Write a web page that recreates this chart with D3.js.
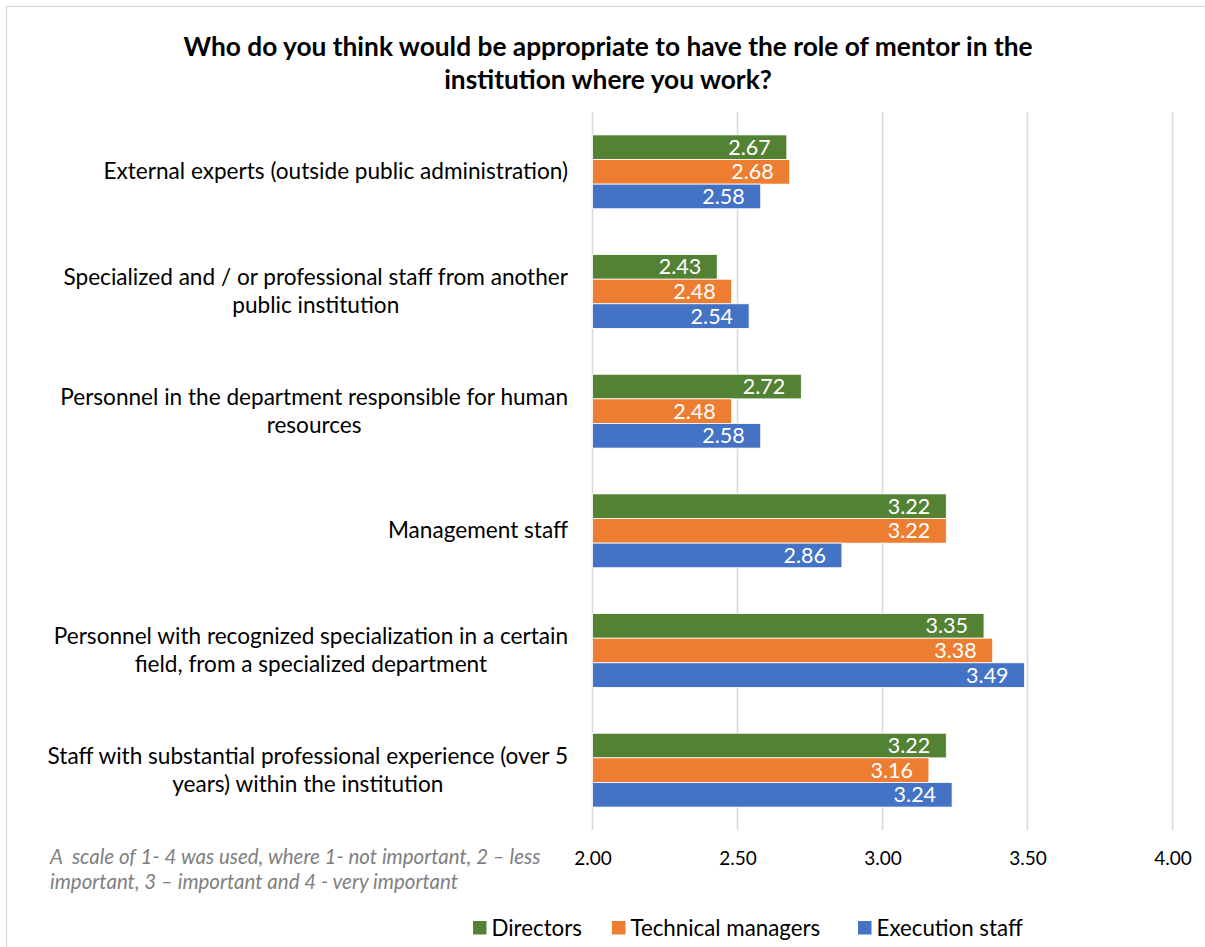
<!DOCTYPE html>
<html>
<head>
<meta charset="utf-8">
<script src="https://cdn.jsdelivr.net/npm/d3@7/dist/d3.min.js"></script>
<style>
  html, body { margin: 0; padding: 0; background: #fff; }
  svg { display: block; font-family: Lato, "Open Sans", sans-serif; }
  .note { white-space: pre; }
</style>
</head>
<body>
<svg id="chart" width="1205" height="947"></svg>
<script>
// Categories (top to bottom) and their wrapped label lines
const categories = [
  "External experts (outside public administration)",
  "Specialized and / or professional staff from another public institution",
  "Personnel in the department responsible for human resources",
  "Management staff",
  "Personnel with recognized specialization in a certain field, from a specialized department",
  "Staff with substantial professional experience (over 5 years) within the institution"
];
const categoryLines = [
  ["External experts (outside public administration)"],
  ["Specialized and / or professional staff from another", "public institution"],
  ["Personnel in the department responsible for human", "resources"],
  ["Management staff"],
  ["Personnel with recognized specialization in a certain", "field, from a specialized department"],
  ["Staff with substantial professional experience (over 5", "years) within the institution"]
];

const seriesNames = ["Directors", "Technical managers", "Execution staff"];
const directors = [2.67, 2.43, 2.72, 3.22, 3.35, 3.22];
const technicalManagers = [2.68, 2.48, 2.48, 3.22, 3.38, 3.16];
const executionStaff = [2.58, 2.54, 2.58, 2.86, 3.49, 3.24];
const seriesValues = [directors, technicalManagers, executionStaff];
const seriesColors = ["#548235", "#ED7D31", "#4472C4"];

const tickValues = [2.0, 2.5, 3.0, 3.5, 4.0];

const titleLines = [
  "Who do you think would be appropriate to have the role of mentor in the",
  "institution where you work?"
];
const noteLines = [
  "A  scale of 1- 4 was used, where 1- not important, 2 \u2013 less",
  "important, 3 \u2013 important and 4 - very important"
];

const svg = d3.select("#chart");

// Chart area border
svg.append("rect")
  .attr("x", 6.5).attr("y", 6.5)
  .attr("width", 1210).attr("height", 960)
  .attr("fill", "#fff")
  .attr("stroke", "#d9d9d9").attr("stroke-width", 1.3);

// Title
svg.append("g").selectAll("text")
  .data(titleLines).join("text")
  .attr("x", 608)
  .attr("y", (d, i) => 56 + i * 33)
  .attr("text-anchor", "middle")
  .attr("font-size", 26.3)
  .attr("font-weight", "bold")
  .attr("fill", "#000")
  .text(d => d);

// Scales
const plotTop = 112, plotBottom = 830;
const x = d3.scaleLinear().domain([2, 4]).range([592.5, 1172.5]);
const y0 = d3.scaleBand().domain(categories).range([plotTop, plotBottom])
  .paddingInner(0.383).paddingOuter(0.1915);
const y1 = d3.scaleBand().domain(seriesNames).range([0, y0.bandwidth()]);

// Vertical gridlines (the 2.00 one doubles as the axis line)
svg.append("g").selectAll("line")
  .data(tickValues).join("line")
  .attr("x1", d => x(d)).attr("x2", d => x(d))
  .attr("y1", plotTop).attr("y2", plotBottom)
  .attr("stroke", "#d9d9d9").attr("stroke-width", 1.6);

// Bottom axis tick labels
const xAxis = d3.axisBottom(x).tickValues(tickValues).tickFormat(d3.format(".2f")).tickSize(0).tickPadding(0);
const axisG = svg.append("g").attr("transform", `translate(0, ${plotBottom + 35})`).call(xAxis);
axisG.select(".domain").remove();
axisG.selectAll("text")
  .attr("font-family", "Lato, 'Open Sans', sans-serif")
  .attr("font-size", 19)
  .attr("fill", "#000")
  .attr("dy", 0);

// Category labels: block right-aligned to the axis, lines centred within the block
const catG = svg.append("g");
const labelRight = 568;
categories.forEach((c, i) => {
  const lines = categoryLines[i];
  const cy = y0(c) + y0.bandwidth() / 2;
  const lh = 28;
  const t = catG.append("text")
    .attr("text-anchor", "middle")
    .attr("font-size", 22.6)
    .attr("fill", "#000");
  const spans = t.selectAll("tspan")
    .data(lines).join("tspan")
    .attr("y", (d, j) => cy + (j - (lines.length - 1) / 2) * lh + 7.5)
    .text(d => d);
  let maxW = 0;
  spans.each(function () { maxW = Math.max(maxW, this.getComputedTextLength()); });
  spans.attr("x", labelRight - maxW / 2);
});

// Bars and value labels
const rows = [];
categories.forEach((c, i) => {
  seriesNames.forEach((s, k) => {
    rows.push({ category: c, series: s, value: seriesValues[k][i], color: seriesColors[k] });
  });
});

const barG = svg.append("g");
barG.selectAll("rect")
  .data(rows).join("rect")
  .attr("x", x(2))
  .attr("y", d => y0(d.category) + y1(d.series))
  .attr("width", d => x(d.value) - x(2))
  .attr("height", y1.bandwidth())
  .attr("fill", d => d.color)
  .attr("stroke", "#fff").attr("stroke-width", 0.8);

barG.selectAll("text")
  .data(rows).join("text")
  .attr("x", d => x(d.value) - 16)
  .attr("y", d => y0(d.category) + y1(d.series) + y1.bandwidth() / 2 + 7.5)
  .attr("text-anchor", "end")
  .attr("font-size", 21.5)
  .attr("fill", "#fff")
  .text(d => d3.format(".2f")(d.value));

// Note on the scale
svg.append("g").selectAll("text")
  .data(noteLines).join("text")
  .attr("class", "note")
  .attr("x", 50)
  .attr("y", (d, i) => 864 + i * 25)
  .attr("font-size", 20.5)
  .attr("font-style", "italic")
  .attr("fill", "#808080")
  .text(d => d);

// Legend
const legendX = [473, 612, 858];
const legend = svg.append("g");
seriesNames.forEach((s, k) => {
  const g = legend.append("g").attr("transform", `translate(${legendX[k]}, 928)`);
  g.append("rect").attr("x", 0).attr("y", -7).attr("width", 13.5).attr("height", 13.5).attr("fill", seriesColors[k]);
  g.append("text").attr("x", 18.5).attr("y", 8).attr("font-size", 22.3).attr("fill", "#000").text(s);
});
</script>
</body>
</html>
